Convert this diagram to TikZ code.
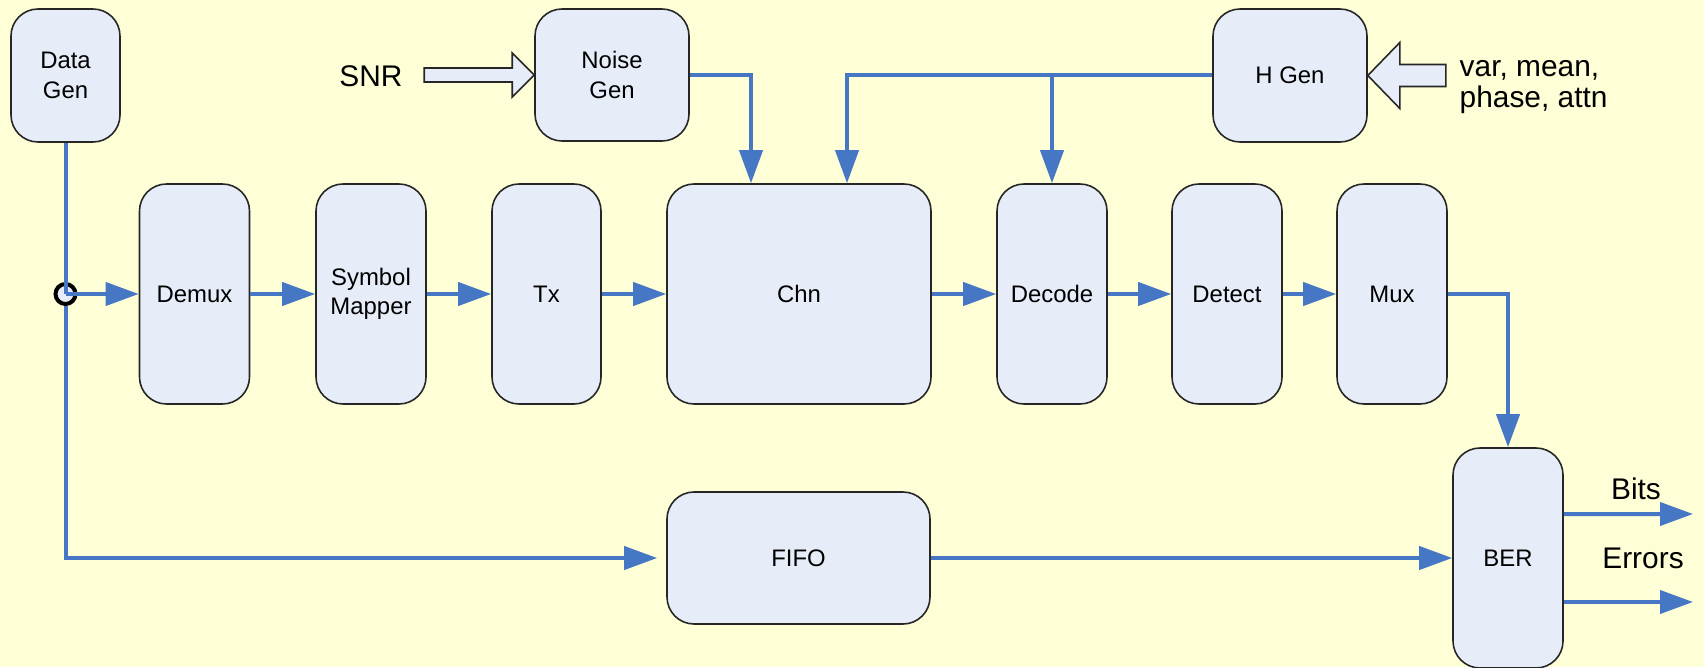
\documentclass[tikz,border=0pt]{standalone}
\usepackage{fontspec}
\setmainfont{Liberation Sans}
\usepackage{xcolor}
\usepackage{tikz}
\usetikzlibrary{arrows.meta}

\definecolor{paper}{HTML}{FFFFD7}
\definecolor{blockfill}{HTML}{E6EDF8}
\definecolor{wire}{HTML}{4677C4}

\begin{document}
\begin{tikzpicture}
            [block/.style = {draw=black!85, fill=blockfill,
                            rounded corners=0.27cm, line width=0.45pt,
                            minimum width=1.1cm, minimum height=2.2cm,
                            inner sep=0pt, align=center,
                            font=\fontsize{6.8}{8.4}\selectfont},
            sig/.style = {draw=wire, line width=0.04cm,
                            -{Triangle[length=0.33cm,width=0.23cm]}},
            wireline/.style = {draw=wire, line width=0.04cm},
            fat/.style = {draw=black!85, fill=blockfill, line width=0.45pt},
            lbl/.style = {font=\fontsize{8.5}{8.8}\selectfont,
                            align=left, inner sep=0pt}]
            \useasboundingbox (0,0) rectangle (17.04,-6.67);
            \fill[paper] (0,0) rectangle (17.04,-6.67);
            % Generadores
            \node[block, minimum width=1.09cm, minimum height=1.33cm] (dgen) at (0.655,-0.755) {Data\\Gen};
            \node[block, minimum width=1.54cm, minimum height=1.32cm] (noise) at (6.12,-0.75) {Noise\\Gen};
            \node[block, minimum width=1.54cm, minimum height=1.33cm] (hgen) at (12.90,-0.755) {H Gen};
            % Cadena principal
            \node[block] (demux) at (1.945,-2.94) {Demux};
            \node[block] (mapper) at (3.71,-2.94) {Symbol\\Mapper};
            \node[block, minimum width=1.09cm] (tx) at (5.465,-2.94) {Tx};
            \node[block, minimum width=2.64cm] (chn) at (7.99,-2.94) {Chn};
            \node[block] (decode) at (10.52,-2.94) {Decode};
            \node[block] (detect) at (12.27,-2.94) {Detect};
            \node[block] (mux) at (13.92,-2.94) {Mux};
            % Referencia y contador de errores
            \node[block, minimum width=2.63cm, minimum height=1.32cm] (fifo) at (7.985,-5.58) {FIFO};
            \node[block] (ber) at (15.08,-5.58) {BER};
            % Derivacion de los datos
            \node[circle, draw=black, fill=blockfill, line width=0.04cm,
                  minimum size=0.2cm, inner sep=0pt] (tap) at (0.655,-2.94) {};
            \draw[wireline] (dgen) -- (tap.center);
            \draw[sig] (tap.center) -- (demux);
            \draw[sig, shorten >=0.09cm] (tap.south) |- (fifo);
            % Conexiones de la cadena
            \foreach \a/\b in {demux/mapper, mapper/tx, tx/chn, chn/decode, decode/detect, detect/mux}
                \draw[sig] (\a) -- (\b);
            \draw[sig] (noise.east) -| ([xshift=-0.48cm]chn.north);
            \draw[sig] (hgen.west) -| ([xshift=0.48cm]chn.north);
            \draw[sig] (hgen.west -| decode.north) -- (decode.north);
            \draw[sig] (mux.east) -| (ber.north);
            \draw[sig] (fifo) -- (ber);
            % Salidas
            \coordinate (bitsend) at (16.93,-5.14);
            \coordinate (errend) at (16.93,-6.02);
            \draw[sig] ([yshift=0.44cm]ber.east) -- (bitsend);
            \draw[sig] ([yshift=-0.44cm]ber.east) -- (errend);
            \node[lbl] (bits) at (16.36,-4.885) {Bits};
            \node[lbl] (errors) at (16.43,-5.585) {Errors};
            % Flechas de parametros
            \draw[fat] (noise.west) -- ++(-0.22,0.22) -- ++(0,-0.15) -- ++(-0.88,0)
                -- ++(0,-0.14) -- ++(0.88,0) -- ++(0,-0.15) -- cycle;
            \draw[fat] (hgen.east) -- ++(0.32,0.33) -- ++(0,-0.22) -- ++(0.46,0)
                -- ++(0,-0.22) -- ++(-0.46,0) -- ++(0,-0.22) -- cycle;
            \node[lbl] (snr) at (3.71,-0.76) {SNR};
            \node[lbl, anchor=west] (params) at (14.59,-0.875) {var, mean,\\phase, attn};
        \end{tikzpicture}
\end{document}
